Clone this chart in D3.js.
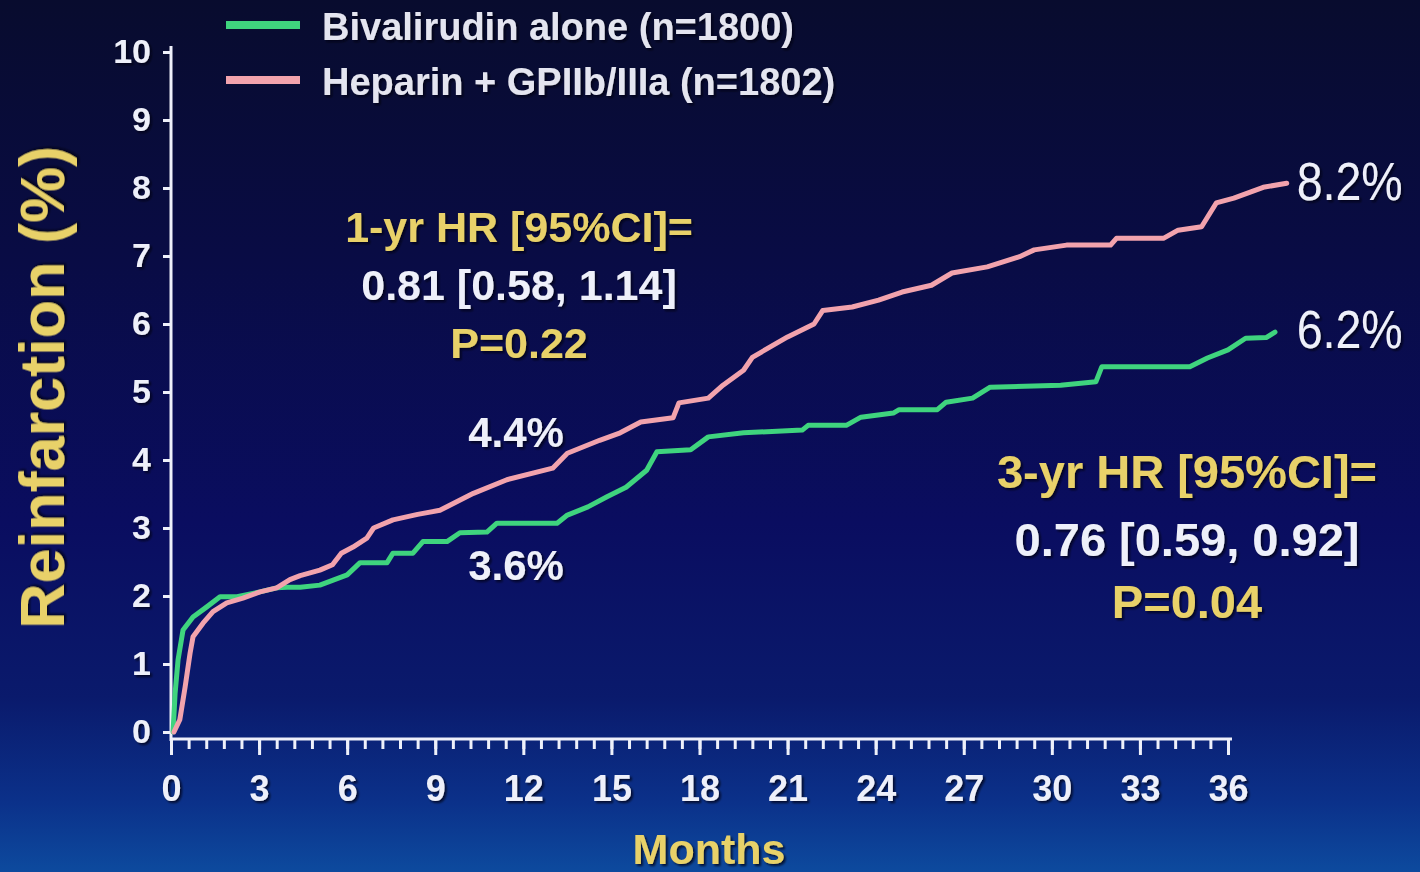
<!DOCTYPE html>
<html>
<head>
<meta charset="utf-8">
<script src="https://cdn.jsdelivr.net/npm/d3@7/dist/d3.min.js"></script>
<style>
  html, body { margin: 0; padding: 0; background: #090d3c; }
  svg { display: block; }
  text { font-family: "Liberation Sans", Arial, sans-serif; }
</style>
</head>
<body>
<svg id="chart" width="1420" height="872"></svg>
<script>
// Cumulative reinfarction (%) by month, Kaplan-Meier style curves
const bivalMonths = [0.07,0.14,0.24,0.41,0.75,1.22,1.67,2.25,3.03,3.6,3.95,4.4,5.07,6.0,6.44,7.36,7.56,8.24,8.58,9.4,9.84,10.76,11.1,13.15,13.5,14.2,14.85,15.5,16.2,16.55,17.7,18.3,19.5,21.5,21.7,23.0,23.5,24.6,24.8,26.1,26.4,27.3,27.9,30.3,31.5,31.7,34.7,35.3,36.0,36.6,37.3,37.6];
const bivalValues = [0,0.57,1.06,1.5,1.69,1.84,1.99,1.99,2.06,2.12,2.13,2.13,2.16,2.31,2.49,2.49,2.63,2.63,2.8,2.8,2.93,2.94,3.07,3.07,3.19,3.31,3.46,3.6,3.85,4.12,4.15,4.34,4.4,4.44,4.51,4.51,4.63,4.69,4.74,4.74,4.85,4.91,5.07,5.1,5.15,5.37,5.37,5.5,5.62,5.79,5.8,5.88];

const hepMonths = [0.1,0.3,0.48,0.65,0.75,1.09,1.43,1.9,2.45,3.03,3.6,4.05,4.4,5.07,5.5,5.8,6.2,6.67,6.9,7.56,8.4,9.16,10.3,11.44,13.0,13.5,14.6,15.3,16.0,17.1,17.3,18.3,18.8,19.5,19.8,21.0,21.9,22.2,23.2,24.1,24.9,25.9,26.6,27.8,28.9,29.4,30.5,32.0,32.2,33.8,34.3,35.1,35.6,36.2,37.2,38.0];
const hepValues = [0,0.18,0.66,1.16,1.4,1.6,1.77,1.9,1.97,2.06,2.12,2.24,2.3,2.38,2.46,2.63,2.72,2.85,3.0,3.12,3.2,3.26,3.51,3.71,3.88,4.1,4.29,4.4,4.56,4.62,4.84,4.91,5.1,5.32,5.51,5.81,6.0,6.2,6.25,6.35,6.47,6.57,6.75,6.84,6.99,7.09,7.16,7.16,7.26,7.26,7.38,7.43,7.78,7.85,8.01,8.07];

const seriesNames = ["Bivalirudin alone (n=1800)", "Heparin + GPIIb/IIIa (n=1802)"];
const seriesColors = ["#3fd47e", "#f2a3ad"];
const endRates = ["6.2%", "8.2%"];

const yTicks = [0,1,2,3,4,5,6,7,8,9,10];
const xTicks = [0,3,6,9,12,15,18,21,24,27,30,33,36];

const oneYearLines = ["1-yr HR [95%CI]=", "0.81 [0.58, 1.14]", "P=0.22"];
const oneYearRates = ["4.4%", "3.6%"];
const threeYearLines = ["3-yr HR [95%CI]=", "0.76 [0.59, 0.92]", "P=0.04"];

const GOLD = "#e8d169";
const WHITE = "#eef0fa";

const svg = d3.select("#chart");
const defs = svg.append("defs");

// slide background: dark navy on top, brighter blue towards the bottom
const bg = defs.append("linearGradient").attr("id", "bg")
  .attr("x1", 0).attr("y1", 0).attr("x2", 0).attr("y2", 1);
[[0, "#080c2e"], [0.3, "#090c45"], [0.6, "#0a0d60"], [0.8, "#0a1a6c"], [0.92, "#0b318a"], [1, "#0d4a9e"]]
  .forEach(([o, c]) => bg.append("stop").attr("offset", o).attr("stop-color", c));

const shadow = defs.append("filter").attr("id", "shadow")
  .attr("x", "-10%").attr("y", "-20%").attr("width", "130%").attr("height", "150%");
shadow.append("feDropShadow").attr("dx", 2).attr("dy", 2)
  .attr("stdDeviation", 0.8).attr("flood-color", "#000010").attr("flood-opacity", 0.75);

svg.append("rect").attr("width", 1420).attr("height", 872).attr("fill", "url(#bg)");

const x = d3.scaleLinear().domain([0, 36]).range([171, 1228]);
const y = d3.scaleLinear().domain([0, 10]).range([732, 52]);
const axisY = 739;

// ---- axes ----
const gx = svg.append("g").attr("transform", `translate(0,${axisY})`);
gx.append("g")
  .call(d3.axisBottom(x).tickValues(d3.range(0, 36.01, 0.6)).tickSize(10).tickFormat(""))
  .call(g => g.select(".domain").remove());
gx.append("g")
  .call(d3.axisBottom(x).tickValues(xTicks).tickSize(16).tickPadding(20).tickFormat(d3.format("d")))
  .call(g => g.select(".domain").remove());
gx.append("line").attr("x1", x(0)).attr("x2", x(36) + 4).attr("y1", 0).attr("y2", 0);
gx.selectAll("line").attr("stroke", WHITE).attr("stroke-width", 3);
gx.selectAll(".tick text")
  .attr("fill", WHITE).attr("font-size", 36).attr("font-weight", "bold")
  .attr("filter", "url(#shadow)");

const gy = svg.append("g").attr("transform", `translate(${x(0)},0)`);
gy.call(d3.axisLeft(y).tickValues(yTicks).tickSize(8).tickPadding(12).tickFormat(d3.format("d")))
  .call(g => g.select(".domain").remove());
gy.append("line").attr("x1", 0).attr("x2", 0).attr("y1", y(10) - 6).attr("y2", axisY + 2);
gy.selectAll("line").attr("stroke", WHITE).attr("stroke-width", 3);
gy.selectAll(".tick text")
  .attr("fill", WHITE).attr("font-size", 34).attr("font-weight", "bold")
  .attr("filter", "url(#shadow)");

// axis titles
svg.append("text")
  .attr("transform", `translate(64,${(140 + 635) / 2}) rotate(-90)`)
  .attr("text-anchor", "middle")
  .attr("fill", GOLD).attr("font-size", 63).attr("font-weight", "bold")
  .attr("filter", "url(#shadow)")
  .text("Reinfarction (%)");

svg.append("text")
  .attr("x", 709).attr("y", 864)
  .attr("text-anchor", "middle")
  .attr("fill", GOLD).attr("font-size", 43).attr("font-weight", "bold")
  .attr("filter", "url(#shadow)")
  .text("Months");

// ---- curves ----
const series = [
  { months: bivalMonths, values: bivalValues },
  { months: hepMonths, values: hepValues }
];
const line = d3.line()
  .x(d => x(d[0])).y(d => y(d[1]))
  .curve(d3.curveLinear);

// end-of-curve rate labels share one left edge, just past the longest curve
const labelX = x(d3.max(series, s => s.months[s.months.length - 1])) + 10;

series.forEach((s, i) => {
  const pts = s.months.map((m, j) => [m, s.values[j]]);
  svg.append("path")
    .datum(pts)
    .attr("d", line)
    .attr("fill", "none")
    .attr("stroke", seriesColors[i])
    .attr("stroke-width", 5)
    .attr("stroke-linejoin", "round")
    .attr("stroke-linecap", "round");

  // 3-year rate printed at the end of each curve
  const last = pts[pts.length - 1];
  svg.append("text")
    .attr("x", labelX)
    .attr("y", y(last[1]) + 2)
    .attr("dominant-baseline", "middle")
    .attr("fill", WHITE)
    .attr("font-size", 54)
    .attr("textLength", 106)
    .attr("lengthAdjust", "spacingAndGlyphs")
    .attr("filter", "url(#shadow)")
    .text(endRates[i]);
});

// ---- legend ----
const legend = svg.append("g");
seriesNames.forEach((name, i) => {
  const ly = 25 + i * 55;
  legend.append("line")
    .attr("x1", 226).attr("x2", 300).attr("y1", ly).attr("y2", ly)
    .attr("stroke", seriesColors[i]).attr("stroke-width", 8);
  legend.append("text")
    .attr("x", 322).attr("y", ly + 15)
    .attr("fill", "#e4e5f0").attr("font-size", 38).attr("font-weight", "bold")
    .attr("filter", "url(#shadow)")
    .text(name);
});

// ---- hazard ratio annotations ----
function block(lines, cx, baselines, size) {
  lines.forEach((t, i) => {
    svg.append("text")
      .attr("x", cx).attr("y", baselines[i])
      .attr("text-anchor", "middle")
      .attr("fill", i === 1 ? WHITE : GOLD)
      .attr("font-size", size).attr("font-weight", "bold")
      .attr("filter", "url(#shadow)")
      .text(t);
  });
}
block(oneYearLines, 519, [242, 300, 358], 43);
block(threeYearLines, 1187, [488, 556, 618], 47);

oneYearRates.forEach((t, i) => {
  svg.append("text")
    .attr("x", 516).attr("y", i === 0 ? 447 : 580)
    .attr("text-anchor", "middle")
    .attr("fill", WHITE).attr("font-size", 42).attr("font-weight", "bold")
    .attr("filter", "url(#shadow)")
    .text(t);
});
</script>
</body>
</html>
